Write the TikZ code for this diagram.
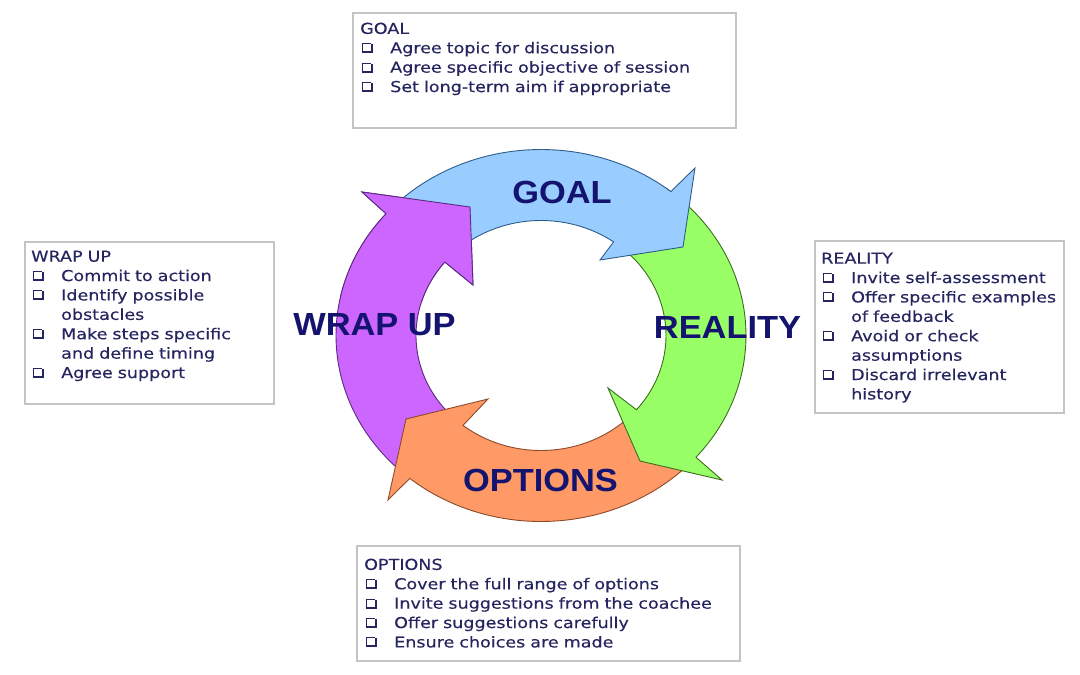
\documentclass[tikz,border=0pt]{standalone}
\usepackage{fontspec}
\newfontfamily\boxfont[FakeStretch=1.17,FakeBold=0.3]{DejaVu Sans}
\newfontfamily\lblfont[FakeStretch=1.075]{Liberation Sans}
\definecolor{bluefill}{HTML}{99CCFF}
\definecolor{blueedge}{HTML}{2F5D8A}
\definecolor{greenfill}{HTML}{99FF66}
\definecolor{greenedge}{HTML}{3B6E1E}
\definecolor{orangefill}{HTML}{FF9966}
\definecolor{orangeedge}{HTML}{8C4A2A}
\definecolor{purplefill}{HTML}{CC66FF}
\definecolor{purpleedge}{HTML}{5C2A80}
\definecolor{navy}{HTML}{141470}
\definecolor{boxtextcol}{HTML}{252560}
\definecolor{boxline}{HTML}{C4C4C4}
\newcommand\ringarrow[5]{%
  \filldraw[#1] plot[domain=#2:#3,samples=60,variable=\t] ({541+205*cos(\t)},{335.5-186*sin(\t)})
    -- (#5ob) -- (#5tip) -- (#5ib)
    -- plot[domain=#4:#2,samples=60,variable=\t] ({541+125*cos(\t)},{335.5-115*sin(\t)}) -- cycle;}
\newcommand\chkglyph{\begin{picture}(11,10)
\put(0,0){\rule{11pt}{2pt}}%
\put(0,9){\rule{9pt}{1pt}}%
\put(0,2){\rule{1pt}{8pt}}%
\put(9,0){\rule{2pt}{9pt}}%
\end{picture}}
\newcommand\chk{\makebox[30pt][l]{\hspace{1.5pt}\chkglyph}}
\newcommand\itm{\par\hangindent=30pt\hangafter=1\noindent\chk}
\tikzset{
  infobox/.style={draw=boxline, line width=1.2pt, fill=white, rectangle, inner sep=0pt, outer sep=0pt, anchor=north west},
  boxtext/.style={anchor=north west, inner sep=0pt, text width=#1, align=left, text=boxtextcol,
     font=\boxfont\fontsize{15}{19.4}\selectfont},
  ringlabel/.style={text=navy, font=\lblfont\bfseries\fontsize{32}{32}\selectfont, inner sep=0pt},
  bluearrow/.style={fill=bluefill, draw=blueedge, line width=0.9pt, line join=miter},
  greenarrow/.style={fill=greenfill, draw=greenedge, line width=0.9pt, line join=miter},
  orangearrow/.style={fill=orangefill, draw=orangeedge, line width=0.9pt, line join=miter},
  purplearrow/.style={fill=purplefill, draw=purpleedge, line width=0.9pt, line join=miter}
}
\begin{document}
\begin{tikzpicture}[x=1pt,y=-1pt]
\useasboundingbox (0,0) rectangle (1080,675);
\fill[white] (0,0) rectangle (1080,675);

% arrow heads (outer barb, tip, inner barb)
\coordinate (Bob) at (695,168); \coordinate (Btip) at (683,247); \coordinate (Bib) at (600,260);
\coordinate (Gob) at (722,480); \coordinate (Gtip) at (640,461); \coordinate (Gib) at (608,388);
\coordinate (Oob) at (388,500); \coordinate (Otip) at (406,419); \coordinate (Oib) at (488,399);
\coordinate (Pob) at (362,192); \coordinate (Ptip) at (470,207); \coordinate (Pib) at (473,285);

\ringarrow{purplearrow}{228.5}{139.1}{140.3}{P}
\ringarrow{orangearrow}{-42.5}{-129.8}{-128.6}{O}
\ringarrow{greenarrow}{52}{-40.9}{-40.2}{G}
\ringarrow{bluearrow}{137.5}{50.7}{54.5}{B}
\begin{scope}
  \clip (340,160) rectangle (495,300);
  \ringarrow{purplearrow}{228.5}{139.1}{140.3}{P}
\end{scope}

\node[ringlabel] (goallbl) at (562,192.5) {GOAL};
\node[ringlabel] (reallbl) at (727.5,327) {REALITY};
\node[ringlabel] (optlbl) at (540.5,480) {OPTIONS};
\node[ringlabel] (wraplbl) at (374.5,325) {WRAP UP};

% boxes
\node[infobox, minimum width=383pt, minimum height=115pt] (goalbox) at (353,13) {};
\node[infobox, minimum width=249pt, minimum height=162pt] (wrapbox) at (25,242) {};
\node[infobox, minimum width=249pt, minimum height=172pt] (realbox) at (815,241) {};
\node[infobox, minimum width=383pt, minimum height=115pt] (optbox) at (357,546) {};

\node[boxtext=370pt] (goaltxt) at (360,22.5) {\noindent GOAL
\itm Agree topic for discussion
\itm Agree specific objective of session
\itm Set long-term aim if appropriate\par};

\node[boxtext=240pt] (wraptxt) at (31,250.5) {\noindent WRAP UP
\itm Commit to action
\itm Identify possible\newline obstacles
\itm Make steps specific\newline and define timing
\itm Agree support\par};

\node[boxtext=240pt] (realtxt) at (821,252.5) {\noindent REALITY
\itm Invite self-assessment
\itm Offer specific examples\newline of feedback
\itm Avoid or check\newline assumptions
\itm Discard irrelevant\newline history\par};

\node[boxtext=370pt] (opttxt) at (364,558.5) {\noindent OPTIONS
\itm Cover the full range of options
\itm Invite suggestions from the coachee
\itm Offer suggestions carefully
\itm Ensure choices are made\par};
\end{tikzpicture}
\end{document}
